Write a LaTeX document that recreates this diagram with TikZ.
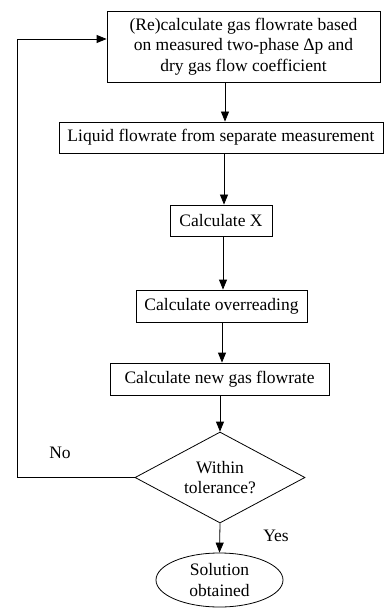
\documentclass[tikz,border=0pt]{standalone}
\usepackage{fontspec}
\setmainfont{Liberation Serif}
\usetikzlibrary{shapes.geometric,arrows.meta}
\begin{document}
\begin{tikzpicture}[x=1pt,y=-1pt,
  font=\fontsize{17.5}{20.5}\selectfont,
  box/.style={draw,line width=0.8pt,inner sep=0pt,align=center},
  arr/.style={line width=0.8pt,-{Triangle[length=10pt,width=8pt]}},
  ln/.style={line width=0.8pt}]
\useasboundingbox (0,0) rectangle (385,609);
\node[box,minimum width=273pt,minimum height=71pt] (b1) at (243.5,46.5)
  {(Re)calculate gas flowrate based\\on measured two-phase Δp and\\dry gas flow coefficient};
\node[box,minimum width=324pt,minimum height=31pt] (b2) at (221,137.5)
  {Liquid flowrate from separate measurement};
\node[box,minimum width=102pt,minimum height=31pt] (b3) at (221,220.5) {Calculate X};
\node[box,minimum width=171pt,minimum height=32pt] (b4) at (221.5,306) {Calculate overreading};
\node[box,minimum width=219pt,minimum height=32pt] (b5) at (219.5,379) {Calculate new gas flowrate};
\node[draw,line width=0.8pt,diamond,aspect=1.87,minimum width=170pt,minimum height=91pt,inner sep=0pt,align=center] (dia) at (220,477.5) {Within\\tolerance?};
\node[draw,line width=0.8pt,ellipse,minimum width=127pt,minimum height=54pt,inner sep=0pt,align=center] (ell) at (219.5,580) {Solution\\obtained};
\coordinate (fb) at (17,39);
\draw[arr] (b1.south -| 225,0) -- (b2.north -| 225,0);
\draw[arr] (b2.south -| 224,0) -- (b3.north -| 224,0);
\draw[arr] (b3.south -| 223,0) -- (b4.north -| 223,0);
\draw[arr] (b4.south -| 222,0) -- (b5.north -| 222,0);
\draw[arr] (b5.south -| dia.north) -- (dia.north);
\draw[arr] (dia.south) -- (ell.north);
\draw[arr] (dia.west) -| (fb) -- (fb -| b1.west);
\node[anchor=center] (no) at (60,453) {No};
\node[anchor=center] (yes) at (276,536) {Yes};
\end{tikzpicture}
\end{document}
